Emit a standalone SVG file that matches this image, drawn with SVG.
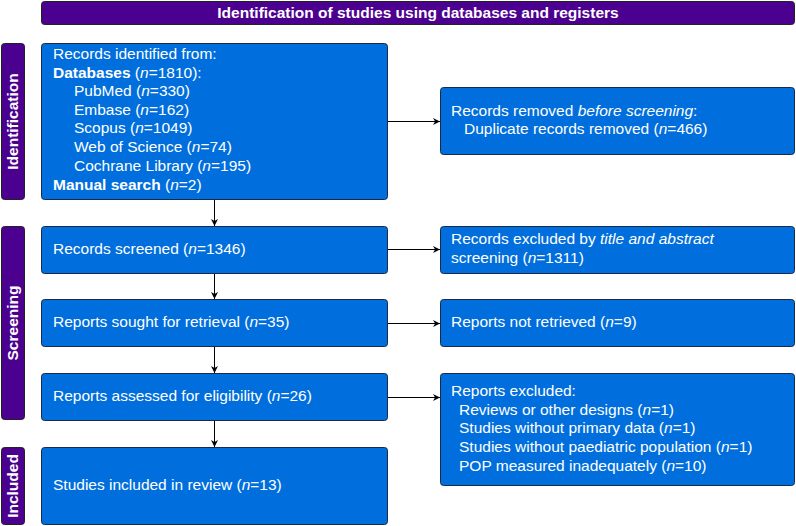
<svg xmlns="http://www.w3.org/2000/svg" width="796" height="526" viewBox="0 0 796 526">
<defs>
<marker id="ah" viewBox="0 0 10 10" refX="10" refY="5" markerWidth="7" markerHeight="7" markerUnits="userSpaceOnUse" orient="auto">
<path d="M0,0 L10,5 L0,10 L3,5 Z" fill="#000"/>
</marker>
</defs>
<style>
.box{fill:#006edc;stroke:#1a2a4a;stroke-width:1}
.side{fill:#4b0090;stroke:#222;stroke-width:1}
text{font-family:"Liberation Sans",Arial,sans-serif;font-size:15.5px;fill:#fff}
.b{font-weight:bold}
.i{font-style:italic}
.conn line{stroke:#000;stroke-width:1;marker-end:url(#ah)}
</style>
<rect width="796" height="526" fill="#fff"/>
<g id="header">
<rect class="side" x="41.5" y="1.5" width="753" height="23" rx="3"/>
<text class="b" x="418" y="18" text-anchor="middle">Identification of studies using databases and registers</text>
</g>
<g id="side-identification">
<rect class="side" x="1.5" y="43.5" width="23" height="156" rx="3"/>
<text class="b" transform="translate(18,121.5) rotate(-90)" text-anchor="middle">Identification</text>
</g>
<g id="side-screening">
<rect class="side" x="1.5" y="226.5" width="23" height="193" rx="3"/>
<text class="b" transform="translate(18,323) rotate(-90)" text-anchor="middle">Screening</text>
</g>
<g id="side-included">
<rect class="side" x="1.5" y="447.5" width="23" height="77" rx="3"/>
<text class="b" transform="translate(18,486) rotate(-90)" text-anchor="middle">Included</text>
</g>
<g id="records-identified">
<rect class="box" x="41.5" y="43.5" width="346" height="156" rx="3"/>
<text x="53" y="59">Records identified from:</text>
<text x="53" y="78"><tspan class="b">Databases</tspan> (<tspan class="i">n</tspan>=1810):</text>
<text x="74" y="96">PubMed (<tspan class="i">n</tspan>=330)</text>
<text x="74" y="115">Embase (<tspan class="i">n</tspan>=162)</text>
<text x="74" y="133">Scopus (<tspan class="i">n</tspan>=1049)</text>
<text x="74" y="152">Web of Science (<tspan class="i">n</tspan>=74)</text>
<text x="74" y="171">Cochrane Library (<tspan class="i">n</tspan>=195)</text>
<text x="53" y="190"><tspan class="b">Manual search</tspan> (<tspan class="i">n</tspan>=2)</text>
</g>
<g id="records-removed">
<rect class="box" x="440.5" y="87.5" width="354" height="67" rx="3"/>
<text x="451" y="116">Records removed <tspan class="i">before screening</tspan>:</text>
<text x="464" y="134">Duplicate records removed (<tspan class="i">n</tspan>=466)</text>
</g>
<g id="records-screened">
<rect class="box" x="41.5" y="226.5" width="346" height="47" rx="3"/>
<text x="53" y="254">Records screened (<tspan class="i">n</tspan>=1346)</text>
</g>
<g id="records-excluded">
<rect class="box" x="440.5" y="226.5" width="354" height="47" rx="3"/>
<text x="451" y="244">Records excluded by <tspan class="i">title and abstract</tspan></text>
<text x="451" y="263">screening (<tspan class="i">n</tspan>=1311)</text>
</g>
<g id="reports-sought">
<rect class="box" x="41.5" y="299.5" width="346" height="47" rx="3"/>
<text x="53" y="327">Reports sought for retrieval (<tspan class="i">n</tspan>=35)</text>
</g>
<g id="reports-not-retrieved">
<rect class="box" x="440.5" y="299.5" width="354" height="47" rx="3"/>
<text x="451" y="327">Reports not retrieved (<tspan class="i">n</tspan>=9)</text>
</g>
<g id="reports-assessed">
<rect class="box" x="41.5" y="373.5" width="346" height="47" rx="3"/>
<text x="53" y="401">Reports assessed for eligibility (<tspan class="i">n</tspan>=26)</text>
</g>
<g id="reports-excluded">
<rect class="box" x="440.5" y="373.5" width="354" height="112" rx="3"/>
<text x="451" y="396">Reports excluded:</text>
<text x="459" y="415">Reviews or other designs (<tspan class="i">n</tspan>=1)</text>
<text x="459" y="433">Studies without primary data (<tspan class="i">n</tspan>=1)</text>
<text x="459" y="452">Studies without paediatric population (<tspan class="i">n</tspan>=1)</text>
<text x="459" y="471">POP measured inadequately (<tspan class="i">n</tspan>=10)</text>
</g>
<g id="studies-included">
<rect class="box" x="41.5" y="447.5" width="346" height="77" rx="3"/>
<text x="53" y="490">Studies included in review (<tspan class="i">n</tspan>=13)</text>
</g>
<g id="connectors" class="conn">
<line x1="214.5" y1="200" x2="214.5" y2="226"/>
<line x1="214.5" y1="274" x2="214.5" y2="299"/>
<line x1="214.5" y1="347" x2="214.5" y2="373"/>
<line x1="214.5" y1="421" x2="214.5" y2="447"/>
<line x1="388" y1="121.5" x2="440" y2="121.5"/>
<line x1="388" y1="249.5" x2="440" y2="249.5"/>
<line x1="388" y1="323.5" x2="440" y2="323.5"/>
<line x1="388" y1="397.5" x2="440" y2="397.5"/>
</g>
</svg>
